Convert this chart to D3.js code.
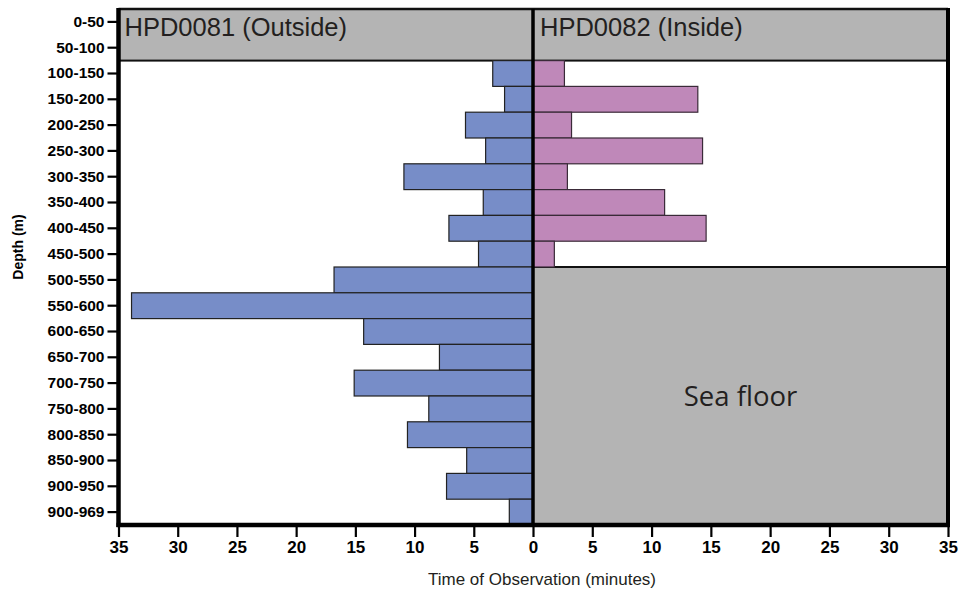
<!DOCTYPE html>
<html>
<head>
<meta charset="utf-8">
<script src="https://cdn.jsdelivr.net/npm/d3@7"></script>
<style>
  body { margin: 0; background: #fff; }
  text { font-family: "Liberation Sans", Arial, sans-serif; }
</style>
</head>
<body>
<div id="chart"></div>
<script>
// depth bins, top to bottom
var depths = ["0-50", "50-100", "100-150", "150-200", "200-250", "250-300", "300-350",
  "350-400", "400-450", "450-500", "500-550", "550-600", "600-650", "650-700",
  "700-750", "750-800", "800-850", "850-900", "900-950", "900-969"];

// minutes of observation, HPD0081 (outside) - no data for the first two bins
var outside = [null, null, 3.4, 2.4, 5.7, 4.0, 10.9, 4.2, 7.1, 4.6, 16.8, 33.9,
  14.3, 7.9, 15.1, 8.8, 10.6, 5.6, 7.3, 2.0];

// HPD0082 (inside) - stops at the sea floor
var inside = [null, null, 2.65, 13.9, 3.25, 14.3, 2.9, 11.1, 14.6, 1.8];

var leftTicks = [35, 30, 25, 20, 15, 10, 5];
var rightTicks = [0, 5, 10, 15, 20, 25, 30, 35];

var width = 960, height = 592;
var yTop = 9, yBottom = 525;
var xLeft = 118.5, xMid = 533, xRight = 948;

var svg = d3.select("#chart").append("svg")
  .attr("width", width)
  .attr("height", height);

var y = d3.scaleBand().domain(depths).range([yTop, yBottom]).padding(0);
var xL = d3.scaleLinear().domain([35, 0]).range([xLeft, xMid]);
var xR = d3.scaleLinear().domain([0, 35]).range([xMid, xRight]);

// grey header band across the first two bins
svg.append("rect")
  .attr("x", xLeft).attr("y", y("0-50"))
  .attr("width", xRight - xLeft).attr("height", y("100-150") - y("0-50"))
  .attr("fill", "#b4b4b4")
  .attr("stroke", "#111").attr("stroke-width", 2);

// sea floor block on the inside panel
svg.append("rect")
  .attr("x", xMid).attr("y", y("500-550"))
  .attr("width", xRight - xMid).attr("height", yBottom - y("500-550"))
  .attr("fill", "#b4b4b4")
  .attr("stroke", "#111").attr("stroke-width", 2);

var outData = depths.map(function(d, i) { return {depth: d, v: outside[i]}; })
  .filter(function(d) { return d.v != null; });
var inData = depths.map(function(d, i) { return {depth: d, v: inside[i]}; })
  .filter(function(d) { return d.v != null; });

svg.selectAll(".outbar").data(outData).enter().append("rect")
  .attr("class", "outbar")
  .attr("x", function(d) { return xL(d.v); })
  .attr("y", function(d) { return y(d.depth); })
  .attr("width", function(d) { return xMid - xL(d.v); })
  .attr("height", y.bandwidth())
  .attr("fill", "#778dc8")
  .attr("stroke", "#222").attr("stroke-width", 1.2);

svg.selectAll(".inbar").data(inData).enter().append("rect")
  .attr("class", "inbar")
  .attr("x", xMid)
  .attr("y", function(d) { return y(d.depth); })
  .attr("width", function(d) { return xR(d.v) - xMid; })
  .attr("height", y.bandwidth())
  .attr("fill", "#bf88b9")
  .attr("stroke", "#3a2a38").attr("stroke-width", 1.2);

// frame
svg.append("line").attr("x1", xLeft).attr("x2", xRight).attr("y1", yTop).attr("y2", yTop)
  .attr("stroke", "#111").attr("stroke-width", 2.5);
svg.append("line").attr("x1", xRight).attr("x2", xRight).attr("y1", yTop - 1).attr("y2", yBottom)
  .attr("stroke", "#000").attr("stroke-width", 4);
svg.append("line").attr("x1", xMid).attr("x2", xMid).attr("y1", yTop).attr("y2", yBottom)
  .attr("stroke", "#000").attr("stroke-width", 3.5);

// y axis
var yAxis = svg.append("g")
  .attr("transform", "translate(" + xLeft + ",0)")
  .call(d3.axisLeft(y).tickSize(11).tickSizeOuter(0).tickPadding(3));
yAxis.select(".domain").attr("stroke", "#000").attr("stroke-width", 4.5)
  .attr("d", "M0," + (yTop - 1) + "V" + (yBottom + 2));
yAxis.selectAll(".tick line").attr("stroke", "#000").attr("stroke-width", 2.2);
yAxis.selectAll("text")
  .attr("fill", "#000")
  .style("font-family", "'Liberation Sans', Arial, sans-serif")
  .style("font-size", "15.5px").style("font-weight", "bold");

// x axes
function styleX(g) {
  g.select(".domain").remove();
  g.selectAll(".tick line").attr("stroke", "#000").attr("stroke-width", 2.2);
  g.selectAll("text")
    .attr("fill", "#000")
    .style("font-family", "'Liberation Sans', Arial, sans-serif")
    .style("font-size", "17px").style("font-weight", "bold");
}
svg.append("g")
  .attr("transform", "translate(0," + yBottom + ")")
  .call(d3.axisBottom(xL).tickValues(leftTicks).tickSize(12).tickPadding(4))
  .call(styleX);
svg.append("g")
  .attr("transform", "translate(0," + yBottom + ")")
  .call(d3.axisBottom(xR).tickValues(rightTicks).tickSize(12).tickPadding(4))
  .call(styleX);
svg.append("line").attr("x1", xLeft - 2).attr("x2", xRight + 2).attr("y1", yBottom).attr("y2", yBottom)
  .attr("stroke", "#000").attr("stroke-width", 4.5);

// panel titles
svg.append("text").attr("x", xLeft + 6).attr("y", 36)
  .attr("fill", "#231f20").style("font-size", "25.5px")
  .text("HPD0081 (Outside)");
svg.append("text").attr("x", xMid + 7).attr("y", 36)
  .attr("fill", "#231f20").style("font-size", "25.5px")
  .text("HPD0082 (Inside)");

svg.append("text")
  .attr("x", (xMid + xRight) / 2)
  .attr("y", (y("500-550") + yBottom) / 2 + 10)
  .attr("text-anchor", "middle")
  .attr("fill", "#231f20")
  .style("font-family", "'Open Sans', sans-serif")
  .style("font-size", "27.5px")
  .text("Sea floor");

// axis titles
svg.append("text")
  .attr("x", 542).attr("y", 585)
  .attr("text-anchor", "middle")
  .attr("fill", "#231f20")
  .style("font-size", "17px")
  .text("Time of Observation (minutes)");

svg.append("text")
  .attr("transform", "translate(23," + ((yTop + yBottom) / 2 - 20) + ") rotate(-90)")
  .attr("text-anchor", "middle")
  .attr("fill", "#000")
  .style("font-size", "14px").style("font-weight", "bold")
  .text("Depth (m)");
</script>
</body>
</html>
